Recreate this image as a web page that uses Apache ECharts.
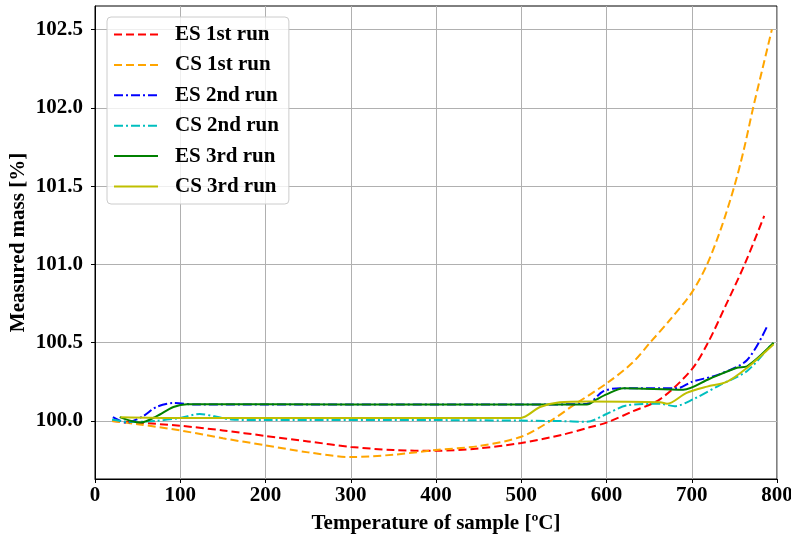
<!DOCTYPE html>
<html>
<head>
<meta charset="utf-8">
<script src="https://cdn.jsdelivr.net/npm/echarts@6/dist/echarts.min.js"></script>
<style>
  html, body { margin: 0; padding: 0; background: #fff; }
  #chart { width: 791px; height: 538px; }
</style>
</head>
<body>
<div id="chart"></div>
<script>
// series data: [temperature, mass %]
var es1 = [[20,100.0],[50,99.99],[100,99.97],[150,99.94],[200,99.905],[250,99.87],[300,99.835],[350,99.815],[400,99.81],[450,99.825],[500,99.86],[550,99.915],[580,99.96],[600,99.99],[630,100.06],[663,100.14],[700,100.33],[719,100.5],[740,100.74],[762,101.0],[785,101.31]];
var cs1 = [[20,100.0],[50,99.98],[100,99.94],[150,99.89],[200,99.845],[250,99.80],[300,99.77],[350,99.785],[400,99.815],[450,99.84],[500,99.90],[537,100.01],[561,100.10],[600,100.24],[630,100.37],[651,100.5],[675,100.65],[700,100.82],[718,101.0],[735,101.24],[750,101.5],[761,101.73],[772,102.0],[783,102.25],[794,102.5]];
var es2 = [[21,100.025],[37,99.99],[56,100.03],[72,100.09],[92,100.115],[120,100.105],[300,100.105],[500,100.105],[577,100.11],[596,100.19],[616,100.21],[683,100.21],[700,100.25],[733,100.30],[765,100.39],[788,100.60]];
var cs2 = [[20,100.01],[40,99.995],[70,100.0],[100,100.02],[123,100.045],[140,100.03],[160,100.01],[200,100.006],[400,100.006],[545,100.0],[577,99.995],[600,100.045],[624,100.10],[663,100.11],[680,100.095],[702,100.14],[733,100.23],[765,100.32],[792,100.48]];
var es3 = [[29,100.025],[53,99.99],[72,100.03],[92,100.09],[108,100.108],[300,100.105],[545,100.105],[577,100.105],[589,100.14],[600,100.17],[620,100.21],[690,100.20],[721,100.27],[753,100.34],[765,100.35],[796,100.50]];
var cs3 = [[30,100.025],[100,100.02],[300,100.02],[499,100.02],[522,100.09],[545,100.12],[577,100.125],[663,100.12],[671,100.11],[694,100.18],[718,100.22],[741,100.25],[765,100.34],[796,100.49]];

var seriesNames = ['ES 1st run', 'CS 1st run', 'ES 2nd run', 'CS 2nd run', 'ES 3rd run', 'CS 3rd run'];
var seriesData = [es1, cs1, es2, cs2, es3, cs3];
var seriesColors = ['#ff0000', '#ffa500', '#0000ff', '#00bfbf', '#008000', '#bfbf00'];
var yTicks = [100.0, 100.5, 101.0, 101.5, 102.0, 102.5];

var dashed = [8, 4];
var dashdot = [9, 3, 2, 3];
var seriesDash = [dashed, dashed, dashdot, dashdot, 'solid', 'solid'];

var font = 'Liberation Serif';
var fsize = 21;

var series = [];
for (let i = 0; i < seriesNames.length; i++) {
    series.push({
        name: seriesNames[i],
        type: 'line',
        data: seriesData[i],
        symbol: 'none',
        smooth: 0.3,
        lineStyle: {
            width: 2,
            type: seriesDash[i],
            color: seriesColors[i]
        },
        itemStyle: { color: seriesColors[i] }
    });
}

var chart = echarts.init(document.getElementById('chart'));
chart.setOption({
    animation: false,
    backgroundColor: '#fff',
    grid: {
        left: 95, right: 14, top: 6, bottom: 59,
        outerBoundsMode: 'none',
        containLabel: false,
        show: true,
        borderColor: '#000',
        borderWidth: 1
    },
    legend: {
        data: seriesNames,
        orient: 'vertical',
        left: 107,
        top: 17,
        itemWidth: 44,
        itemHeight: 14,
        itemGap: 9.4,
        padding: [7, 10, 7, 6],
        backgroundColor: 'rgba(255,255,255,0.8)',
        borderColor: '#cccccc',
        borderWidth: 1,
        borderRadius: 4,
        itemStyle: { opacity: 0 },
        textStyle: {
            fontFamily: font, fontWeight: 'bold', fontSize: fsize, color: '#000',
            padding: [0, 0, 0, 12]
        }
    },
    xAxis: {
        type: 'value',
        min: 0,
        max: 800,
        interval: 100,
        name: 'Temperature of sample [ºC]',
        nameLocation: 'middle',
        nameGap: 34,
        nameMoveOverlap: false,
        nameTextStyle: { fontFamily: font, fontWeight: 'bold', fontSize: fsize, color: '#000' },
        axisLine: { lineStyle: { color: '#000', width: 1 } },
        axisTick: { show: true, length: 4, lineStyle: { color: '#000' } },
        axisLabel: { fontFamily: font, fontWeight: 'bold', fontSize: fsize, color: '#000', margin: 6 },
        splitLine: { show: true, lineStyle: { color: '#b0b0b0', width: 1 } }
    },
    yAxis: {
        type: 'value',
        min: 99.63,
        max: 102.65,
        name: 'Measured mass [%]',
        nameLocation: 'middle',
        nameGap: 66,
        nameMoveOverlap: false,
        nameTextStyle: { fontFamily: font, fontWeight: 'bold', fontSize: fsize, color: '#000' },
        axisLine: { show: true, lineStyle: { color: '#000', width: 1 } },
        axisTick: { show: true, length: 4, customValues: yTicks, lineStyle: { color: '#000' } },
        axisLabel: {
            fontFamily: font, fontWeight: 'bold', fontSize: fsize, color: '#000', margin: 12,
            customValues: yTicks,
            formatter: function (v) { return v.toFixed(1); }
        },
        splitLine: { show: true, lineStyle: { color: '#b0b0b0', width: 1 } }
    },
    series: series
});
</script>
</body>
</html>
